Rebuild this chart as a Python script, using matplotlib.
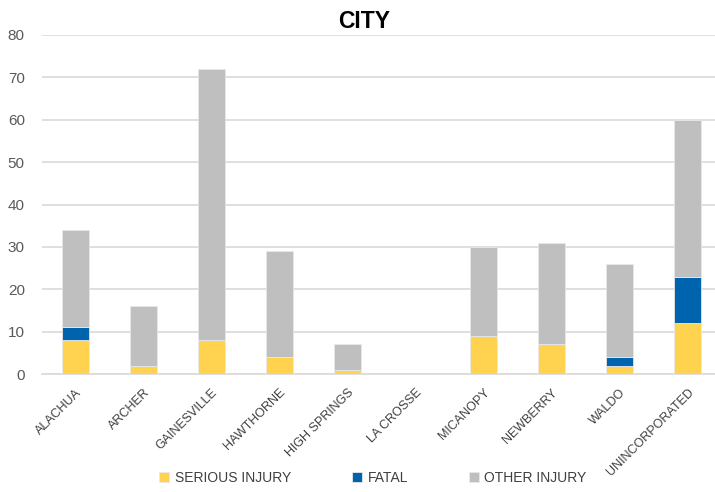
import matplotlib
matplotlib.use("Agg")
import matplotlib.pyplot as plt
import numpy as np

cities = ["ALACHUA", "ARCHER", "GAINESVILLE", "HAWTHORNE", "HIGH SPRINGS",
          "LA CROSSE", "MICANOPY", "NEWBERRY", "WALDO", "UNINCORPORATED"]
serious = [8, 2, 8, 4, 1, 0, 9, 7, 2, 12]
fatal = [3, 0, 0, 0, 0, 0, 0, 0, 2, 11]
other = [23, 14, 64, 25, 6, 0, 21, 24, 22, 37]
yticks = [0, 10, 20, 30, 40, 50, 60, 70, 80]

plt.rcParams['font.family'] = ['Liberation Sans', 'DejaVu Sans']

W, H = 715, 492
fig = plt.figure(figsize=(W / 100, H / 100), dpi=100)
left, right, top, bottom = 41.5, 721.5, 35, 374
ax = fig.add_axes([left / W, 1 - bottom / H, (right - left) / W, (bottom - top) / H])

x = np.arange(len(cities))
s = np.array(serious)
f = np.array(fatal)
o = np.array(other)
bw = 0.4
ec = '#e8e8e8'
ax.bar(x, s, bw, color='#FFD34F', edgecolor=ec, linewidth=0.6, label='SERIOUS INJURY', zorder=3)
ax.bar(x, f, bw, bottom=s, color='#0063AD', edgecolor=ec, linewidth=0.6, label='FATAL', zorder=3)
ax.bar(x, o, bw, bottom=s + f, color='#BFBFBF', edgecolor=ec, linewidth=0.6, label='OTHER INJURY', zorder=3)

ax.set_xlim(-0.5, len(cities) - 0.5)
ax.set_ylim(0, 80)
ax.set_yticks(yticks)
ax.set_yticklabels([str(v) for v in yticks], fontsize=11, color='#595959')
ax.yaxis.grid(True, color='#d9d9d9', linewidth=1.2, zorder=0)
ax.set_axisbelow(True)
for sp in ['top', 'right', 'left']:
    ax.spines[sp].set_visible(False)
ax.spines['bottom'].set_color('#d9d9d9')
ax.spines['bottom'].set_linewidth(1.2)
ax.tick_params(axis='y', length=0, pad=12)
ax.tick_params(axis='x', length=0, pad=9)
ax.set_xticks(x)
ax.set_xticklabels(cities, rotation=45, ha='right', rotation_mode='anchor',
                   fontsize=9, color='#404040')

fig.text(364 / W, 1 - 21 / H, 'CITY', ha='center', va='center', fontsize=16.5,
         fontweight='bold', color='#000000')

leg = fig.legend(loc='center', bbox_to_anchor=(373 / W, 1 - 478 / H), ncol=3,
                 frameon=False, fontsize=10, handlelength=0.7, handleheight=0.7,
                 handletextpad=0.4, columnspacing=4.4, labelcolor='#404040')

fig.savefig('out.png', dpi=100)
